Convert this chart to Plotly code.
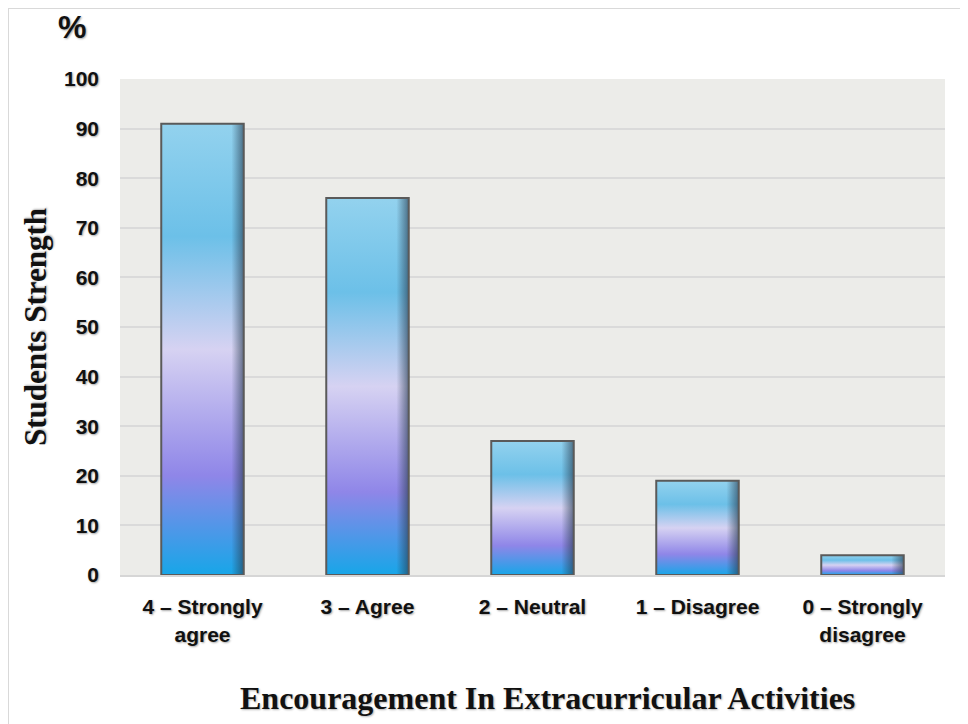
import plotly.graph_objects as go

categories = ["4 – Strongly<br>agree", "3 – Agree", "2 – Neutral", "1 – Disagree", "0 – Strongly<br>disagree"]
values = [91, 76, 27, 19, 4]
y_ticks = [0, 10, 20, 30, 40, 50, 60, 70, 80, 90, 100]

bar_half = 0.25
shade_w = 0.075
grad = [[0.0, "#17a6e8"], [0.22, "#8f86e8"], [0.5, "#d6d2f2"], [0.75, "#6cc0e8"], [1.0, "#93d2ee"]]
shade = [[0.0, "rgba(40,60,80,0)"], [1.0, "rgba(40,60,80,0.65)"]]

fig = go.Figure()
for i, v in enumerate(values):
    xs = [i - bar_half, i - bar_half, i + bar_half, i + bar_half, i - bar_half]
    ys = [0, v, v, 0, 0]
    fig.add_trace(go.Scatter(
        x=xs, y=ys, mode="lines", fill="toself",
        fillgradient=dict(type="vertical", colorscale=grad),
        line=dict(width=0), hoverinfo="skip", showlegend=False,
    ))
    sx = [i + bar_half - shade_w, i + bar_half - shade_w, i + bar_half, i + bar_half, i + bar_half - shade_w]
    fig.add_trace(go.Scatter(
        x=sx, y=ys, mode="lines", fill="toself",
        fillgradient=dict(type="horizontal", colorscale=shade),
        line=dict(width=0), hoverinfo="skip", showlegend=False,
    ))
    fig.add_trace(go.Scatter(
        x=xs, y=ys, mode="lines",
        line=dict(color="#5a5a5a", width=2), hoverinfo="skip", showlegend=False,
    ))

tickfont = dict(family="Liberation Sans, Arial", size=21, color="#111111",
                weight="bold", shadow="1px 1px 2px rgba(0,0,0,0.35)")

# Page body has an 8px margin; figure laid out accordingly
W, H = 960, 716
L, T, R, B = 112, 71, 23, 149
pw, ph = W - L - R, H - T - B

def px(x):
    return (x - L) / pw

def py(y):
    return (H - B - y) / ph

fig.update_layout(
    width=W, height=H,
    margin=dict(l=L, r=R, t=T, b=B),
    paper_bgcolor="white",
    plot_bgcolor="#ecece9",
    xaxis=dict(range=[-0.5, 4.5], tickmode="array", tickvals=list(range(len(categories))),
               ticktext=categories, showgrid=False, zeroline=False, showline=True,
               linecolor="#d6d6d6", linewidth=2, tickfont=tickfont, ticks="",
               ticklabelstandoff=12, fixedrange=True),
    yaxis=dict(range=[0, 100], tickmode="array", tickvals=y_ticks, showgrid=True,
               gridcolor="#dadada", gridwidth=2, zeroline=False, tickfont=tickfont,
               ticks="", ticklabelstandoff=20, fixedrange=True),
    shapes=[dict(type="rect", xref="paper", yref="paper", x0=px(0), x1=px(958),
                 y0=py(740), y1=py(0), line=dict(color="#d9d9d9", width=2), layer="below")],
    annotations=[
        dict(text="%", xref="paper", yref="paper", x=px(64), y=py(19),
             showarrow=False, xanchor="center", yanchor="middle",
             font=dict(family="Liberation Sans, Arial", size=32, color="#111111", weight="bold",
                       shadow="1px 1px 2px rgba(0,0,0,0.35)")),
        dict(text="Students Strength", xref="paper", yref="paper", x=px(27), y=0.5,
             textangle=-90, showarrow=False, xanchor="center", yanchor="middle",
             font=dict(family="Liberation Serif, Times New Roman", size=31, color="#111111",
                       weight="bold", shadow="1px 1px 2px rgba(0,0,0,0.3)")),
        dict(text="Encouragement In Extracurricular Activities", xref="paper", yref="paper",
             x=px(539), y=py(690), showarrow=False,
             xanchor="center", yanchor="middle",
             font=dict(family="Liberation Serif, Times New Roman", size=32, color="#111111",
                       weight="bold", shadow="1px 1px 2px rgba(0,0,0,0.3)")),
    ],
)

fig.write_html("out.html")
